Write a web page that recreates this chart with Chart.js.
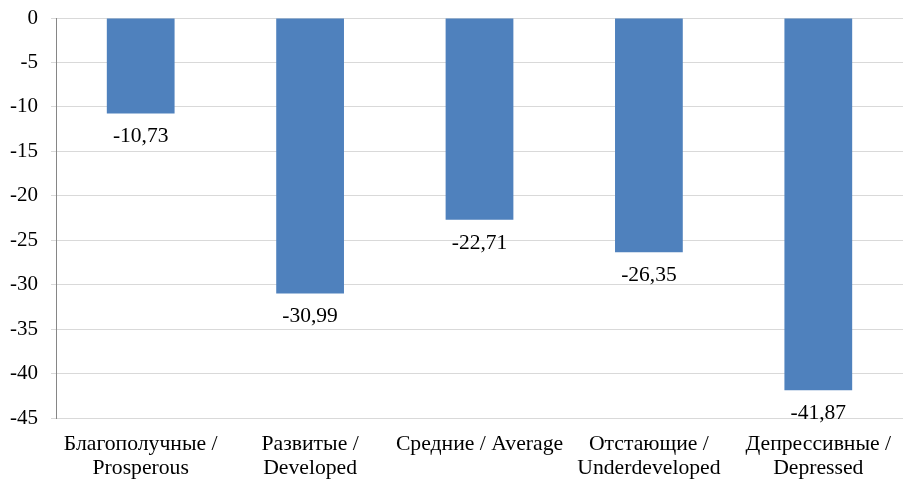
<!DOCTYPE html>
<html>
<head>
<meta charset="utf-8">
<script src="https://cdn.jsdelivr.net/npm/chart.js@4"></script>
<style>
  html, body { margin: 0; padding: 0; background: #fff; }
  #wrap { width: 905px; height: 480px; position: relative; }
</style>
</head>
<body>
<div id="wrap"><canvas id="chart"></canvas></div>
<script>
/* ── data ─────────────────────────────────── */
const categories = [
  ['Благополучные /', 'Prosperous'],
  ['Развитые /', 'Developed'],
  ['Средние / Average'],
  ['Отстающие /', 'Underdeveloped'],
  ['Депрессивные /', 'Depressed'],
];
const values = [-10.73, -30.99, -22.71, -26.35, -41.87];
const yTicks = [0, -5, -10, -15, -20, -25, -30, -35, -40, -45];

const FONT = '"Liberation Serif", "Times New Roman", serif';

/* ── value labels under each bar end ──────── */
const valueLabels = {
  id: 'valueLabels',
  afterDatasetsDraw(chart) {
    const ctx = chart.ctx;
    const meta = chart.getDatasetMeta(0);
    ctx.save();
    ctx.font = '21.5px ' + FONT;
    ctx.fillStyle = '#000';
    ctx.textAlign = 'center';
    ctx.textBaseline = 'middle';
    meta.data.forEach((bar, i) => {
      ctx.fillText(values[i].toFixed(2).replace('.', ','), bar.x, bar.y + 23);
    });
    ctx.restore();
  }
};

new Chart(document.getElementById('chart'), {
  type: 'bar',
  data: {
    labels: categories,
    datasets: [{
      data: values,
      backgroundColor: '#4f81bd',
      borderWidth: 0,
      categoryPercentage: 1,
      barPercentage: 0.4,
    }],
  },
  options: {
    responsive: true, maintainAspectRatio: false, animation: false,
    layout: { padding: { top: 0, right: 2, left: 0, bottom: 0 } },
    plugins: { legend: { display: false }, tooltip: { enabled: false } },
    scales: {
      x: {
        grid: { display: false },
        border: { display: false },
        ticks: { color: '#000', font: { family: FONT, size: 21.7, lineHeight: 1.12 }, padding: 6, maxRotation: 0, autoSkip: false },
        afterFit: s => { s.height = 62; },
      },
      y: {
        min: -45, max: 0,
        afterBuildTicks: s => { s.ticks = yTicks.map(v => ({ value: v })); },
        grid: { color: '#d9d9d9', tickColor: '#d9d9d9', tickLength: 5 },
        border: { color: '#868686' },
        ticks: { color: '#000', font: { family: FONT, size: 21 }, padding: 13 },
        afterFit: s => { s.width = 56; s.paddingTop = 18; s.paddingBottom = 12; },
      },
    },
  },
  plugins: [valueLabels],
});
</script>
</body>
</html>
